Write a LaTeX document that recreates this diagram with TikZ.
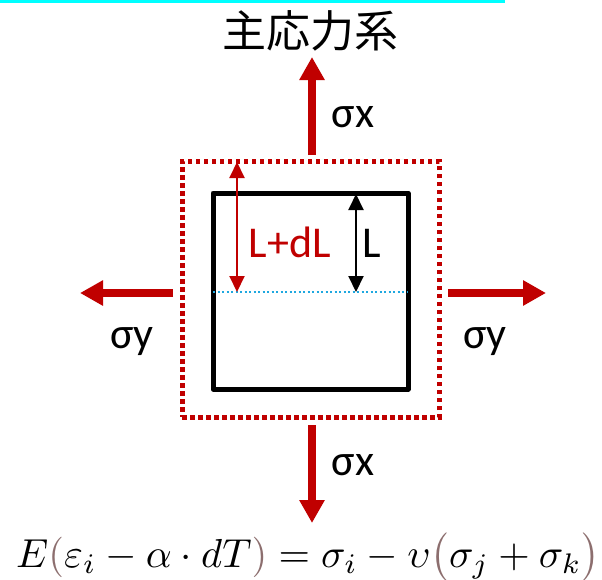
\documentclass[tikz,border=0pt]{standalone}
\usepackage{fontspec}
\setmainfont{Carlito}
\newfontfamily\cjk{Noto Sans CJK JP}
\usetikzlibrary{arrows.meta}
\definecolor{dred}{HTML}{C00000}
\definecolor{parcol}{HTML}{8C6E6E}
\definecolor{lblue}{HTML}{1FA8E0}
\definecolor{topcyan}{HTML}{00FFFF}
\begin{document}
\begin{tikzpicture}[x=1pt,y=-1pt,
  lbl/.style={font=\fontsize{44}{48}\selectfont, inner sep=0pt, anchor=base},
  force/.style={draw=dred, line width=8pt, -{Triangle[width=24pt,length=23pt]}},
  dimred/.style={draw=dred, line width=2pt, {Triangle[width=15pt,length=16pt]}-{Triangle[width=15pt,length=16pt]}},
  dimblack/.style={draw=black, line width=2pt, {Triangle[width=15pt,length=16pt]}-{Triangle[width=15pt,length=16pt]}},
  outerbox/.style={draw=dred, line width=5pt, dash pattern=on 4.5pt off 3.5pt, minimum width=257pt, minimum height=256pt, inner sep=0pt, outer sep=0pt},
  innerbox/.style={draw=black, line width=5pt, line join=round, minimum width=195pt, minimum height=196pt, inner sep=0pt, outer sep=0pt},
  midline/.style={draw=lblue, line width=2pt, dash pattern=on 2pt off 2.5pt}
]
\useasboundingbox (0,0) rectangle (602,579);
\fill[topcyan] (0,0) rectangle (505,2.5);

\node[font=\cjk\fontsize{44}{48}\selectfont, inner sep=0pt] (title) at (310,31) {主応力系};

\node[outerbox] (outer) at (310.5,289) {};
\node[innerbox] (inner) at (310.5,291) {};

\coordinate (ml) at (213,292);
\coordinate (mr) at (408,292);
\draw[midline] (ml) -- (mr);

\coordinate (rdt) at (237,162);
\coordinate (rdb) at (237,292);
\draw[dimred] (rdt) -- (rdb);
\coordinate (bdt) at (356,194);
\coordinate (bdb) at (356,292);
\draw[dimblack] (bdt) -- (bdb);
\node[lbl, text=dred] (ldl) at (290,257) {L+dL};
\node[lbl] (lL) at (372,257) {L};

\coordinate (ups) at (312,155);
\coordinate (upe) at (312,57);
\draw[force] (ups) -- (upe);
\coordinate (dns) at (312,425);
\coordinate (dne) at (312,523);
\draw[force] (dns) -- (dne);
\coordinate (lfs) at (173,293);
\coordinate (lfe) at (80,293);
\draw[force] (lfs) -- (lfe);
\coordinate (rts) at (448,293);
\coordinate (rte) at (546,293);
\draw[force] (rts) -- (rte);

\node[lbl] (sxu) at (353,127) {σx};
\node[lbl] (sxd) at (353,475) {σx};
\node[lbl] (syl) at (132,348) {σy};
\node[lbl] (syr) at (485,348) {σy};

\node[inner sep=0pt, anchor=base west] (formula) at (16,567) {\resizebox{584pt}{!}{$E\textcolor{parcol}{(}\varepsilon_i-\alpha\cdot dT\textcolor{parcol}{)}=\sigma_i-\upsilon\textcolor{parcol}{\bigl(}\sigma_j+\sigma_k\textcolor{parcol}{\bigr)}$}};
\end{tikzpicture}
\end{document}
